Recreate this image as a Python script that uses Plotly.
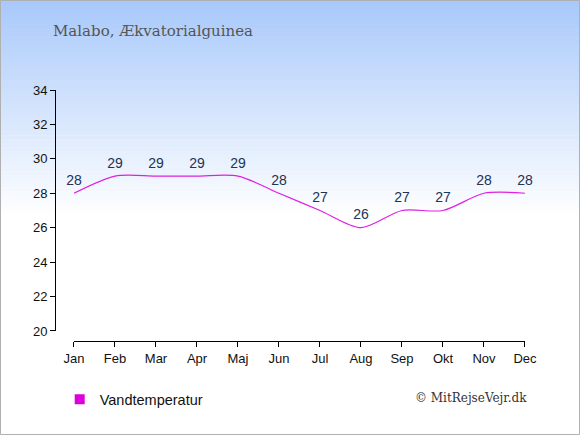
import plotly.graph_objects as go

months = ["Jan", "Feb", "Mar", "Apr", "Maj", "Jun", "Jul", "Aug", "Sep", "Okt", "Nov", "Dec"]
water_temp = [28, 29, 29, 29, 29, 28, 27, 26, 27, 27, 28, 28]
y_ticks = [20, 22, 24, 26, 28, 30, 32, 34]

fig = go.Figure()

fig.add_trace(go.Scatter(
    x=months, y=water_temp, mode="lines+markers+text",
    line=dict(color="#e020e0", width=1.2, shape="spline", smoothing=0.8),
    marker=dict(size=6, color="rgba(0,0,0,0)"),
    text=[str(v) for v in water_temp], textposition="top center",
    textfont=dict(family="Arial, Liberation Sans", size=14, color="#223355"),
    cliponaxis=False, showlegend=False, hoverinfo="skip",
))
# legend entry only
fig.add_trace(go.Scatter(
    x=[None], y=[None], mode="markers", name="Vandtemperatur",
    marker=dict(symbol="square", size=10, color="#dd00dd"),
))

# background gradient, light blue at top fading to white
shapes = []
top_px, end_px = 0, 215
steps = 54
for i in range(steps):
    p0 = top_px + (end_px - top_px) * i / steps
    p1 = top_px + (end_px - top_px) * (i + 1) / steps
    f = (i + 0.5) / steps
    r = int(168 + (255 - 168) * f)
    g = int(201 + (255 - 201) * f)
    b = int(251 + (255 - 251) * f)
    shapes.append(dict(
        type="rect", xref="paper", yref="paper", layer="below",
        x0=-55 / 470, x1=525 / 470,
        y0=(341 - p1 - 0.5) / 251, y1=(341 - p0) / 251,
        fillcolor=f"rgb({r},{g},{b})", line=dict(width=0),
    ))
# outer border
shapes.append(dict(
    type="rect", xref="paper", yref="paper", layer="above",
    x0=-54.5 / 470, x1=524.5 / 470,
    y0=(341 - 434.5) / 251, y1=(341 - 0.5) / 251,
    line=dict(color="#b0b0b0", width=1), fillcolor="rgba(0,0,0,0)",
))

fig.update_layout(
    width=580, height=435,
    margin=dict(l=55, r=55, t=90, b=94),
    paper_bgcolor="white", plot_bgcolor="rgba(0,0,0,0)",
    shapes=shapes,
    xaxis=dict(
        domain=[0.0404, 1], anchor="free", position=0,
        range=[0, 11], showgrid=False, zeroline=False,
        showline=True, linecolor="black", linewidth=1,
        ticks="outside", ticklen=5, tickcolor="black",
        tickfont=dict(family="Arial, Liberation Sans", size=13, color="#111"),
    ),
    yaxis=dict(
        domain=[0.04, 1], anchor="free", position=0,
        range=[20, 34], tickvals=y_ticks, showgrid=False, zeroline=False,
        showline=True, linecolor="black", linewidth=1,
        ticks="outside", ticklen=5, tickcolor="black",
        tickfont=dict(family="Arial, Liberation Sans", size=13, color="#111"),
    ),
    legend=dict(
        orientation="h", x=0.01, xanchor="left", y=-0.232, yanchor="middle",
        font=dict(family="Arial, Liberation Sans", size=14.5, color="#111"),
        bgcolor="rgba(0,0,0,0)",
    ),
    annotations=[
        dict(text="Malabo, Ækvatorialguinea", xref="paper", yref="paper",
             x=-4 / 470, y=(341 - 31) / 251, xanchor="left", yanchor="middle",
             showarrow=False,
             font=dict(family="DejaVu Serif", size=15, color="#555555")),
        dict(text="© MitRejseVejr.dk", xref="paper", yref="paper",
             x=1.008, y=(341 - 398) / 251, xanchor="right", yanchor="middle",
             showarrow=False,
             font=dict(family="DejaVu Serif", size=12, color="#333333")),
    ],
)

fig.write_html("out.html", config={"displayModeBar": False},
               post_script="document.body.style.margin='0';")
